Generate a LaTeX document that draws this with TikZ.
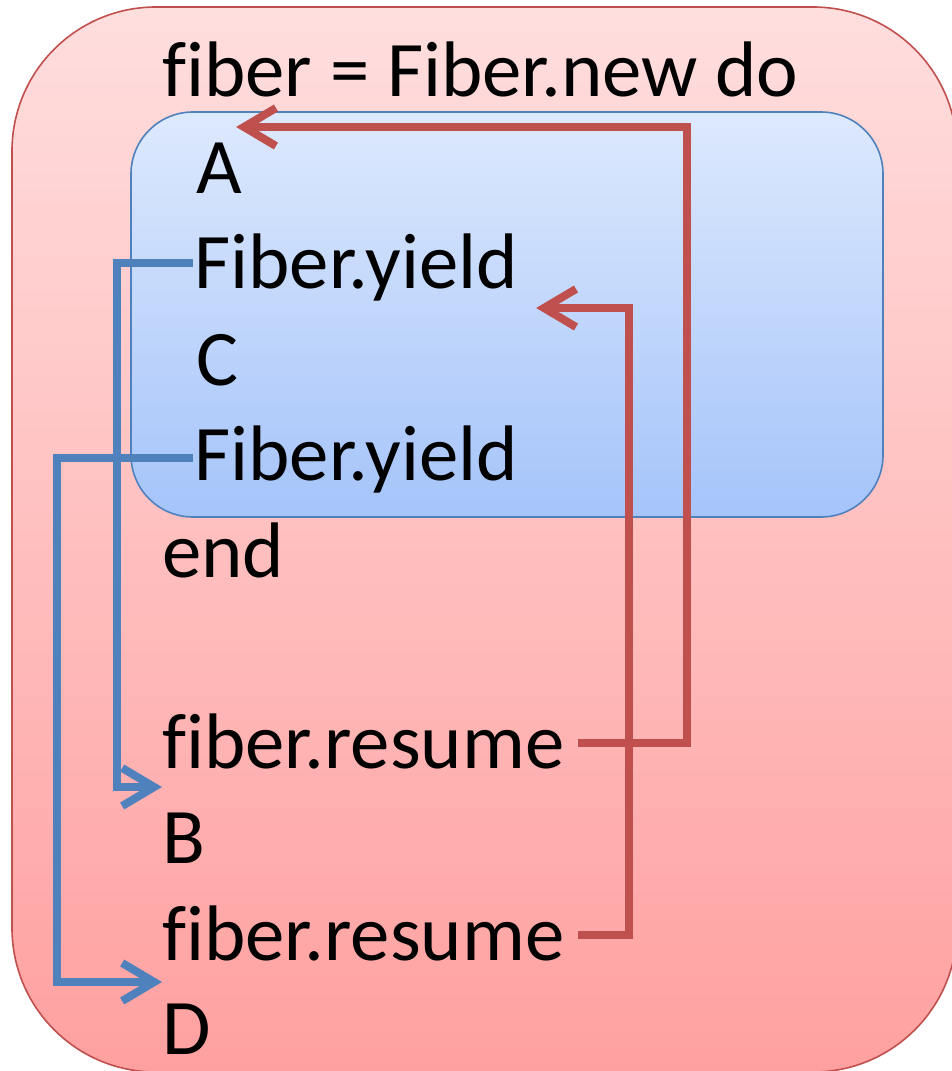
\documentclass[tikz,border=0pt]{standalone}
\usepackage{fontspec}
\setmainfont{Carlito}[RawFeature={-liga;-clig;-dlig}]
\usetikzlibrary{arrows.meta,calc}
\definecolor{arrowred}{RGB}{192,80,77}
\definecolor{arrowblue}{RGB}{79,129,189}
\definecolor{pinktop}{RGB}{255,222,222}
\definecolor{pinkbottom}{RGB}{255,160,160}
\definecolor{bluetop}{RGB}{221,233,253}
\definecolor{bluebottom}{RGB}{165,196,250}

\begin{document}
\begin{tikzpicture}[x=0.025cm,y=-0.025cm,
    code/.style={anchor=base west,inner sep=0pt,font=\fontsize{56pt}{67pt}\selectfont},
    jump/.style={line width=0.2cm,-{Straight Barb[length=0.8cm,width=0.95cm]}},
    redline/.style={jump,draw=arrowred},
    blueline/.style={jump,draw=arrowblue}]
   \useasboundingbox (0,0) rectangle (952,1071);
   \begin{scope}
     \clip (0,0) rectangle (952,1071);
     \path[draw=arrowred,line width=0.04cm,rounded corners=3.6cm,
       top color=pinktop,bottom color=pinkbottom] (12,7) rectangle (957,1072);
   \end{scope}
   \path[draw=arrowblue,line width=0.04cm,rounded corners=1.55cm,
     top color=bluetop,bottom color=bluebottom] (131,112) rectangle (883,517);

   \node[code] (l0)   at (162,97)   {fiber = Fiber.new do};
   \node[code] (lA)   at (196,193)  {A};
   \node[code] (y1)   at (194,288)  {Fiber.yield};
   \node[code] (lC)   at (196,385)  {C};
   \node[code] (y2)   at (194,480)  {Fiber.yield};
   \node[code] (lend) at (162,577)  {end};
   \node[code] (r1)   at (162,768)  {fiber.resume};
   \node[code] (lB)   at (162,863)  {B};
   \node[code] (r2)   at (162,960)  {fiber.resume};
   \node[code] (lD)   at (162,1054) {D};

   \coordinate (tipA) at ($(lA.base east)+(-6,-66)$);
   \coordinate (tipY) at ($(y1.base east)+(18,20)$);
   \coordinate (tipB) at ($(r1.base west)+(0,19)$);
   \coordinate (tipD) at ($(r2.base west)+(0,22)$);
   \coordinate (s1) at ($(r1.base east)+(14,-25)$);
   \coordinate (s2) at ($(r2.base east)+(14,-25)$);
   \coordinate (s3) at ($(y1.base west)+(-1,-25)$);
   \coordinate (s4) at ($(y2.base west)+(-1,-22)$);

   \draw[redline] (s1) -| (687,0 |- tipA) -- (tipA);
   \draw[redline] (s2) -| (629,0 |- tipY) -- (tipY);
   \draw[blueline] (s3) -- (117,0 |- s3) |- (tipB);
   \draw[blueline] (s4) -- (57,0 |- s4) |- (tipD);
\end{tikzpicture}
\end{document}
